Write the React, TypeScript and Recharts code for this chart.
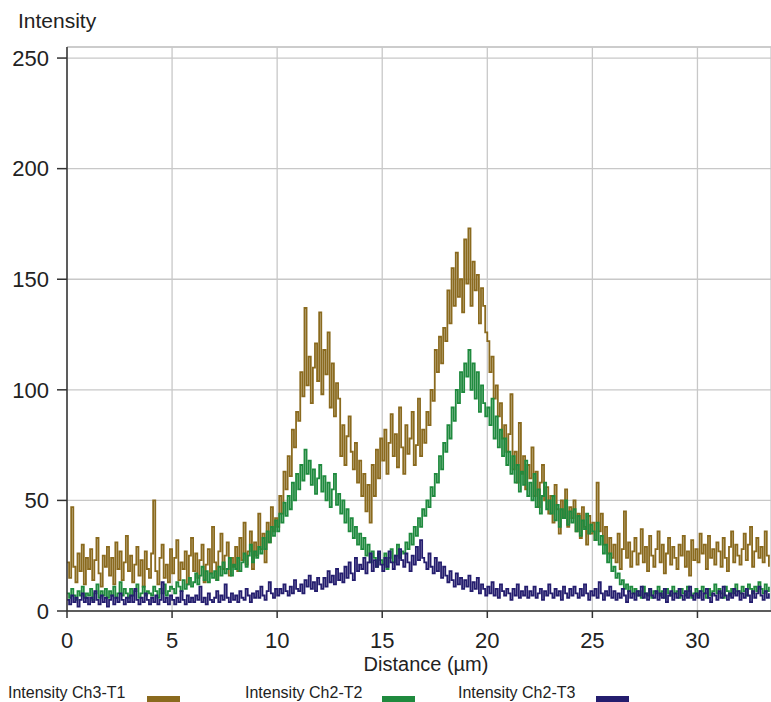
import React from 'react'
import {
  LineChart,
  Line,
  XAxis,
  YAxis,
  CartesianGrid,
  ReferenceLine
} from 'recharts'

// sampling step along the line profile, in µm
const STEP = 0.1

const xTicks = [0, 5, 10, 15, 20, 25, 30]
const yTicks = [0, 50, 100, 150, 200, 250]

// one row per µm
const ch3T1 = [
  22, 15, 47, 20, 13, 26, 18, 30, 12, 24,
  19, 28, 14, 23, 33, 17, 11, 25, 20, 29,
  16, 24, 12, 31, 19, 27, 14, 22, 34, 18,
  25, 13, 21, 29, 16, 23, 11, 27, 19, 15,
  26, 50, 18, 12, 24, 30, 15, 21, 13, 28,
  17, 24, 32, 14, 22, 19, 27, 12, 25, 33,
  18, 26, 15, 23, 30, 13, 21, 28, 17, 38,
  22, 14, 27, 35, 19, 25, 31, 16, 24, 20,
  29, 18, 33, 23, 40, 21, 27, 36, 19, 31,
  25, 44, 28, 35, 22, 40, 31, 47, 36, 42,
  38, 52, 44, 63, 55, 70, 61, 82, 74, 90,
  86, 108, 97, 137, 102, 115, 94, 110, 121, 104,
  135, 98, 118, 107, 126, 92, 112, 88, 103, 96,
  70, 84, 66, 79, 88, 72, 64, 76, 58, 68,
  52, 62, 45, 57, 40, 66, 52, 73, 60, 78,
  68, 82, 62, 76, 89, 70, 80, 65, 92, 74,
  62, 84, 71, 78, 90, 66, 75, 96, 70, 82,
  76, 90, 84, 100, 95, 118, 108, 124, 112, 128,
  122, 145, 130, 155, 138, 162, 142, 150, 135, 168,
  148, 173, 138, 158, 145, 152, 130, 146, 138, 126,
  122, 108, 115, 96, 102, 88, 94, 78, 84, 72,
  80, 98, 64, 72, 58, 85, 62, 70, 55, 66,
  60, 74, 52, 63, 47, 58, 66, 50, 56, 44,
  52, 40, 57, 46, 35, 50, 42, 55, 38, 47,
  42, 50, 36, 44, 33, 47, 38, 30, 43, 35,
  40, 32, 58, 36, 44, 30, 38, 26, 33, 24,
  30, 22, 35, 19, 28, 45, 24, 31, 20, 27,
  33, 21, 26, 37, 22, 29, 18, 34, 25, 20,
  28, 36, 22, 30, 17, 26, 33, 21, 29, 24,
  19, 30, 25, 34, 20, 27, 16, 32, 23, 28,
  22, 35, 26, 30, 19, 34, 24, 28, 21, 31,
  27, 20, 33, 24, 18, 29, 36, 22, 30, 25,
  21, 28, 35, 23, 30, 38, 20, 27, 33, 24,
  29, 22, 36, 25, 20
]

const ch2T2 = [
  8, 6, 10, 7, 5, 9, 7, 11, 6, 8,
  7, 10, 5, 8, 12, 6, 9, 7, 10, 6,
  9, 7, 11, 6, 8, 13, 7, 10, 8, 6,
  10, 7, 9, 12, 6, 8, 11, 7, 9, 8,
  7, 11, 9, 6, 10, 8, 12, 7, 9, 11,
  10, 8, 13, 11, 9, 14, 10, 12, 15, 11,
  13, 17, 12, 16, 20, 14, 18, 13, 17, 15,
  18, 14, 20, 16, 22, 17, 19, 24, 16, 21,
  19, 24, 18, 22, 26, 20, 25, 30, 22, 27,
  24, 29, 26, 33, 28, 36, 31, 38, 34, 41,
  36, 44, 40, 49, 43, 52, 46, 58, 50, 62,
  55, 66, 59, 73, 62, 68, 57, 64, 53, 60,
  66, 54, 61, 50, 58, 47, 55, 62, 48, 53,
  44, 50, 40, 46, 36, 42, 33, 38, 30, 35,
  28, 33, 25, 30, 22, 27, 24, 20, 26, 23,
  21, 26, 19, 24, 28, 22, 25, 30, 24, 27,
  26, 31, 28, 35, 30, 38, 34, 42, 38, 46,
  43, 50, 47, 56, 52, 62, 58, 70, 64, 76,
  72, 84, 78, 92, 86, 100, 94, 108, 99, 112,
  106, 118, 100, 112, 96, 108, 90, 102, 94, 88,
  92, 84, 96, 78, 88, 74, 82, 70, 78, 66,
  72, 62, 70, 58, 66, 54, 63, 57, 68, 52,
  58, 50, 62, 47, 55, 44, 52, 58, 46, 50,
  44, 52, 41, 48, 38, 46, 42, 50, 39, 45,
  40, 46, 36, 43, 34, 41, 37, 44, 35, 39,
  36, 32, 40, 30, 34, 26, 30, 22, 26, 18,
  20, 15, 17, 12, 14, 10, 12, 9, 11, 8,
  10, 7, 9, 6, 11, 8, 7, 10, 6, 9,
  8, 11, 7, 9, 6, 10, 8, 7, 11, 8,
  9, 6, 10, 8, 7, 11, 9, 6, 8, 10,
  7, 9, 11, 8, 6, 10, 7, 9, 12, 8,
  10, 8, 6, 11, 9, 7, 10, 8, 12, 9,
  8, 11, 9, 7, 12, 10, 8, 11, 9, 13,
  10, 8, 12, 9, 11
]

const ch2T3 = [
  5, 3, 7, 4, 6, 2, 5, 8, 4, 6,
  3, 6, 4, 9, 5, 3, 7, 4, 6, 2,
  5, 7, 3, 6, 4, 8, 5, 3, 6, 4,
  7, 4, 10, 5, 3, 6, 4, 8, 5, 3,
  6, 4, 7, 3, 5, 13, 4, 6, 3, 7,
  5, 3, 6, 4, 9, 5, 3, 7, 4, 6,
  4, 7, 5, 11, 4, 6, 3, 8, 5, 4,
  6, 9, 4, 7, 5, 12, 6, 4, 8, 5,
  7, 4, 9, 6, 5, 10, 7, 4, 8, 6,
  9, 6, 11, 7, 5, 9, 13, 8, 6, 10,
  7, 10, 8, 12, 9, 7, 11, 8, 14, 10,
  9, 12, 8, 14, 11, 16, 10, 13, 9, 15,
  12, 10, 15, 11, 18, 13, 16, 12, 19, 14,
  17, 13, 20, 15, 22, 17, 14, 24, 18, 21,
  19, 24, 17, 22, 26, 18, 23, 20, 27, 21,
  18, 24, 20, 27, 22, 19, 25, 21, 28, 23,
  20, 26, 22, 18, 25, 21, 29, 23, 32, 24,
  22, 19, 26, 20, 17, 24, 18, 22, 15, 20,
  16, 13, 18, 14, 11, 17, 12, 15, 10, 14,
  11, 16, 9, 13, 10, 15, 8, 12, 10, 7,
  11, 8, 13, 7, 10, 6, 12, 9, 7, 10,
  8, 5, 10, 7, 12, 6, 9, 7, 11, 6,
  9, 7, 11, 6, 8, 10, 5, 9, 7, 12,
  8, 6, 10, 7, 9, 5, 11, 8, 6, 10,
  7, 11, 8, 6, 10, 7, 12, 8, 5, 9,
  7, 10, 6, 13, 8, 5, 9, 7, 11, 6,
  9, 5, 8, 6, 10, 7, 4, 9, 6, 8,
  5, 9, 7, 11, 6, 8, 5, 10, 7, 6,
  9, 5, 8, 6, 10, 4, 7, 9, 5, 8,
  6, 10, 7, 5, 9, 6, 11, 7, 5, 8,
  6, 9, 5, 8, 10, 6, 4, 8, 7, 5,
  9, 6, 11, 7, 5, 8, 6, 10, 7, 9,
  5, 8, 6, 10, 7, 4, 9, 6, 8, 11,
  7, 5, 9, 6, 8
]

const seriesNames = ['Intensity Ch3-T1', 'Intensity Ch2-T2', 'Intensity Ch2-T3']
const colors = ['#8a6a1e', '#1f8a3e', '#241d6e']

const data = ch3T1.map((v, i) => ({
  d: +(i * STEP).toFixed(1),
  t1: v,
  t2: ch2T2[i],
  t3: ch2T3[i]
}))

const font = "'Liberation Sans', Arial, sans-serif"

const legendPos = [
  { textLeft: 8, swatchLeft: 147 },
  { textLeft: 245, swatchLeft: 382 },
  { textLeft: 458, swatchLeft: 596 }
]

const App: React.FC = () => {
  return (
    <div
      style={{
        position: 'absolute',
        left: 0,
        top: 0,
        width: 771,
        height: 702,
        overflow: 'hidden',
        background: '#fff',
        fontFamily: font
      }}
    >
      <div style={{ position: 'absolute', left: 18, top: 9, fontSize: 21, color: '#222' }}>
        Intensity
      </div>
      <LineChart
        width={771}
        height={702}
        data={data}
        margin={{ top: 47, right: 0, left: 0, bottom: 29 }}
      >
        <CartesianGrid stroke="#c8c8c8" strokeWidth={1.3} />
        <ReferenceLine y={255} stroke="#c8c8c8" strokeWidth={1.3} />
        <XAxis
          dataKey="d"
          type="number"
          domain={[0, 33.5]}
          ticks={xTicks}
          allowDataOverflow
          height={62}
          stroke="#333"
          strokeWidth={1.5}
          tickSize={7}
          tickMargin={14}
          tick={{ fill: '#222', fontSize: 22, fontFamily: font }}
          label={{
            value: 'Distance (µm)',
            position: 'insideBottom',
            offset: 2,
            dx: 7,
            fill: '#222',
            fontSize: 20,
            fontFamily: font
          }}
        />
        <YAxis
          type="number"
          domain={[0, 255]}
          ticks={yTicks}
          allowDataOverflow
          width={67}
          stroke="#333"
          strokeWidth={1.5}
          tickSize={10}
          tickMargin={8}
          tick={{ fill: '#222', fontSize: 22, fontFamily: font }}
        />
        <Line
          dataKey="t1"
          type="stepAfter"
          stroke={colors[0]}
          strokeWidth={1.8}
          dot={false}
          isAnimationActive={false}
        />
        <Line
          dataKey="t2"
          type="stepAfter"
          stroke={colors[1]}
          strokeWidth={1.8}
          dot={false}
          isAnimationActive={false}
        />
        <Line
          dataKey="t3"
          type="stepAfter"
          stroke={colors[2]}
          strokeWidth={1.8}
          dot={false}
          isAnimationActive={false}
        />
      </LineChart>
      {seriesNames.map((name, i) => (
        <React.Fragment key={name}>
          <div
            style={{
              position: 'absolute',
              left: legendPos[i].textLeft,
              top: 684,
              fontSize: 16,
              color: '#222',
              whiteSpace: 'nowrap'
            }}
          >
            {name}
          </div>
          <div
            style={{
              position: 'absolute',
              left: legendPos[i].swatchLeft,
              top: 696,
              width: 33,
              height: 6,
              background: colors[i]
            }}
          />
        </React.Fragment>
      ))}
    </div>
  )
}

export default App
